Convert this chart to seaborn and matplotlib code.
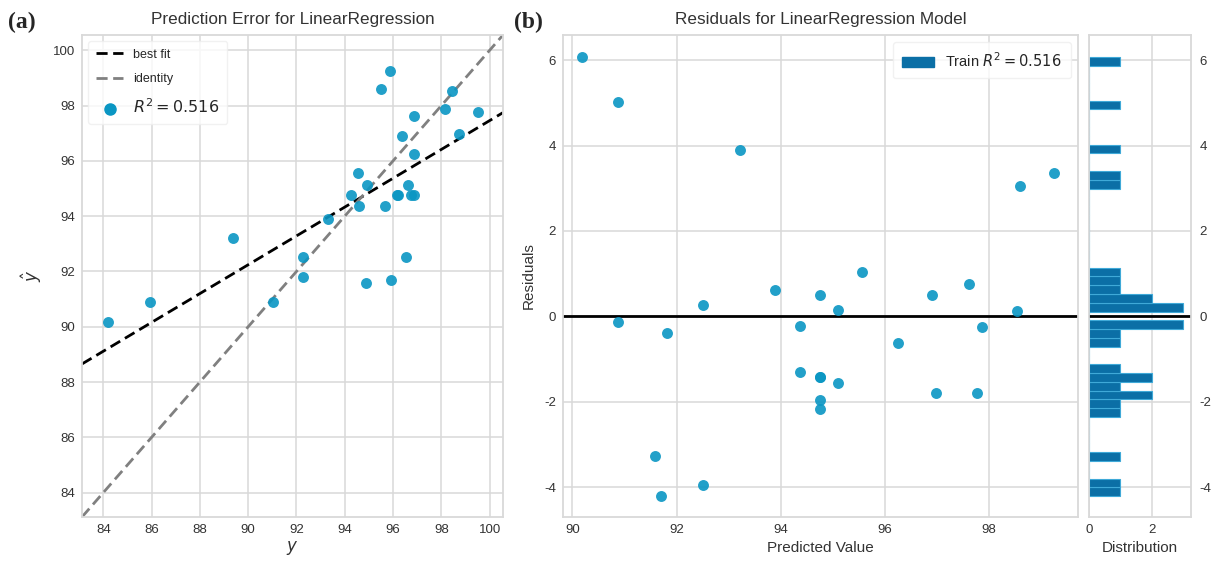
import numpy as np
import pandas as pd
import matplotlib
matplotlib.use("Agg")
import matplotlib.pyplot as plt
from matplotlib.patches import Patch
from matplotlib.lines import Line2D
import seaborn as sns

# ---- data ----
y_true = [95.87, 95.50, 98.42, 98.15, 99.52, 96.85, 96.38, 98.72, 96.85, 94.54,
          94.93, 96.62, 94.25, 96.15, 96.20, 96.74, 96.88, 94.60, 95.68, 93.30,
          89.36, 92.26, 96.52, 92.26, 94.87, 95.91, 85.93, 84.19, 91.02]
y_pred = [99.24, 98.59, 98.54, 97.87, 97.78, 97.61, 96.90, 96.98, 96.26, 95.56,
          95.11, 95.11, 94.75, 94.75, 94.75, 94.75, 94.75, 94.38, 94.38, 93.90,
          93.21, 92.51, 92.51, 91.81, 91.58, 91.70, 90.88, 90.18, 90.88]
residuals = [3.36, 3.06, 0.13, -0.26, -1.80, 0.76, 0.50, -1.80, -0.62, 1.03,
             0.16, -1.57, 0.50, -1.43, -1.43, -1.95, -2.17, -0.22, -1.30, 0.62,
             3.89, 0.27, -3.94, -0.40, -3.26, -4.21, 5.02, 6.08, -0.14]
r2_label = "0.516"
a_ticks = [84, 86, 88, 90, 92, 94, 96, 98, 100]
b_xticks = [90, 92, 94, 96, 98]
b_yticks = [-4, -2, 0, 2, 4, 6]
hist_xticks = [0, 2]

df = pd.DataFrame({"y": y_true, "yhat": y_pred, "res": residuals})

sns.set_theme(style="whitegrid")
plt.rcParams["font.family"] = ["Liberation Sans", "DejaVu Sans"]
plt.rcParams["mathtext.fontset"] = "dejavusans"
plt.rcParams["axes.unicode_minus"] = False

PT = "#0a96c3"
HIST = "#0b6fa6"
GRID = "#d9d9d9"
TXT = "#333333"

W, H = 1216, 564
fig = plt.figure(figsize=(W / 100, H / 100), dpi=100)

def box(l, t, r, b):
    return [l / W, (H - b) / H, (r - l) / W, (b - t) / H]

ax_a = fig.add_axes(box(82, 35, 503, 517))
ax_b = fig.add_axes(box(563, 35, 1078, 517))
ax_h = fig.add_axes(box(1089, 35, 1191, 517))

for ax in (ax_a, ax_b, ax_h):
    ax.grid(True, color=GRID, lw=1.1)
    for s in ax.spines.values():
        s.set_color(GRID)
        s.set_linewidth(1.3)
    ax.tick_params(labelsize=9.5, colors=TXT, length=0, pad=5)

# ---- panel (a) ----
lim = (83.12, 100.55)
ax_a.set_xlim(lim)
ax_a.set_ylim(lim)
sns.regplot(data=df, x="y", y="yhat", ax=ax_a, scatter=False, ci=None,
            truncate=False,
            line_kws=dict(color="black", ls="--", lw=2, dashes=(4, 2)))
ax_a.plot(lim, lim, ls="--", color="#808080", lw=2, dashes=(4, 2))
sns.scatterplot(data=df, x="y", y="yhat", ax=ax_a, color=PT, s=62,
                linewidth=0, alpha=0.9, zorder=3)
ax_a.set_xlim(lim)
ax_a.set_ylim(lim)
ax_a.set_xticks(a_ticks)
ax_a.set_yticks(a_ticks)
ax_a.set_xlabel("$y$", fontsize=12, color=TXT, labelpad=2)
ax_a.set_ylabel("$\\hat{y}$", fontsize=12, color=TXT, labelpad=6)
ax_a.set_title("Prediction Error for LinearRegression", fontsize=12.3,
               color=TXT, pad=8)
handles = [Line2D([], [], color="black", ls="--", lw=2, dashes=(4, 2)),
           Line2D([], [], color="#808080", ls="--", lw=2, dashes=(4, 2)),
           Line2D([], [], color=PT, marker="o", ls="", ms=8)]
ax_a.legend(handles, ["best fit", "identity", "$R^2 = " + r2_label + "$"],
            loc="upper left", fontsize=9, frameon=True, facecolor="white",
            edgecolor="#eeeeee", framealpha=0.8, handlelength=2.2,
            borderpad=0.6, labelspacing=1.0)
leg = ax_a.get_legend()
leg.get_texts()[2].set_fontsize(11.5)

# ---- panel (b) ----
sns.scatterplot(data=df, x="yhat", y="res", ax=ax_b, color=PT, s=62,
                linewidth=0, alpha=0.9, zorder=3)
ax_b.axhline(0, color="black", lw=2, zorder=2)
ax_b.set_xlim(89.82, 99.71)
ax_b.set_ylim(-4.70, 6.59)
ax_b.set_xticks(b_xticks)
ax_b.set_yticks(b_yticks)
ax_b.set_xlabel("Predicted Value", fontsize=11, color=TXT, labelpad=4)
ax_b.set_ylabel("Residuals", fontsize=11, color=TXT, labelpad=6)
ax_b.set_title("Residuals for LinearRegression Model", fontsize=12.3,
               color=TXT, pad=8)
ax_b.legend([Patch(facecolor=HIST, edgecolor=HIST)],
            ["Train $R^2 = " + r2_label + "$"], loc="upper right",
            fontsize=10.5, frameon=True, facecolor="white",
            edgecolor="#eeeeee", framealpha=0.8, handlelength=2.2,
            borderpad=0.6)

# ---- histogram ----
sns.histplot(data=df, y="res", bins=50, ax=ax_h, color=HIST,
             edgecolor="#3fa9d8", linewidth=0.8, alpha=1.0)
ax_h.axhline(0, color="black", lw=2)
ax_h.set_ylim(-4.70, 6.59)
ax_h.set_xlim(0, 3.25)
ax_h.set_xticks(hist_xticks)
ax_h.set_yticks(b_yticks)
ax_h.yaxis.tick_right()
ax_h.yaxis.set_label_position("right")
ax_h.set_ylabel("")
ax_h.set_xlabel("Distribution", fontsize=11, color=TXT, labelpad=4)
ax_h.tick_params(axis="y", pad=6)

fig.text(8 / W, 1 - 22 / H, "(a)", fontsize=17, fontweight="bold",
         family="Liberation Serif", va="center", ha="left")
fig.text(514 / W, 1 - 22 / H, "(b)", fontsize=17, fontweight="bold",
         family="Liberation Serif", va="center", ha="left")

fig.savefig("out.png", dpi=100)
